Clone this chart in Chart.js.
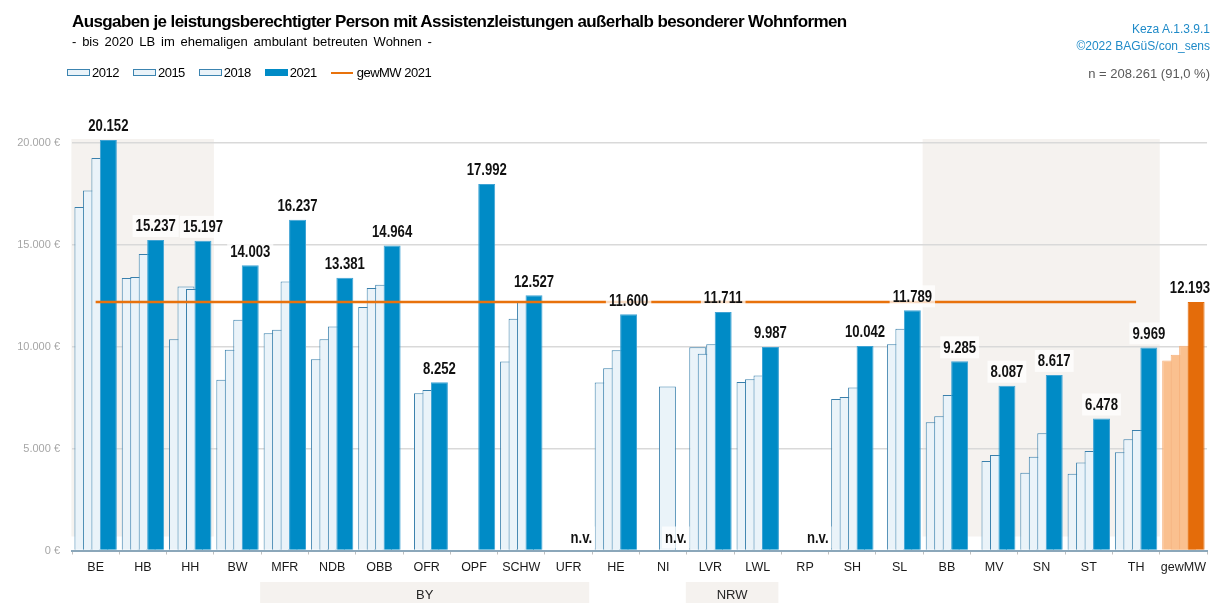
<!DOCTYPE html>
<html>
<head>
<meta charset="utf-8">
<script src="https://cdn.jsdelivr.net/npm/chart.js@4.4.0/dist/chart.umd.min.js"></script>
<style>
  body { margin: 0; background: #fff; }
  #wrap { position: relative; width: 1212px; height: 603px; overflow: hidden; }
  #wrap canvas { position: absolute; left: 0; top: 0; }
  .txt { position: absolute; white-space: nowrap; line-height: 1; font-family: 'Liberation Sans', Arial, sans-serif; }
  #title { left: 72px; top: 13px; font-size: 17px; font-weight: bold; color: #000; letter-spacing: -0.6px; }
  #subtitle { left: 72px; top: 35px; font-size: 13px; color: #000; word-spacing: 2.2px; }
  #src1 { right: 2px; top: 23px; font-size: 12px; color: #1F8AC8; }
  #src2 { right: 2px; top: 40px; font-size: 12px; color: #1F8AC8; }
  #count { right: 2px; top: 67px; font-size: 13px; color: #595959; }
  #legend { left: 67px; top: 66px; font-size: 13px; letter-spacing: -0.5px; display: flex; align-items: center; gap: 14px; color: #000; }
  .item { display: flex; align-items: center; gap: 2px; }
  .box { width: 21px; height: 5px; border: 1px solid #3C84B0; background: #EAF3F9; }
  .box.dark { background: #008BC6; border-color: #008BC6; }
  .line { width: 22px; height: 2px; background: #E8720C; margin-right: 2px; }
</style>
</head>
<body>
<div id="wrap">
  <canvas id="myChart" width="1212" height="603"></canvas>
  <div id="title" class="txt">Ausgaben je leistungsberechtigter Person mit Assistenzleistungen außerhalb besonderer Wohnformen</div>
  <div id="subtitle" class="txt">- bis 2020 LB im ehemaligen ambulant betreuten Wohnen -</div>
  <div id="src1" class="txt">Keza A.1.3.9.1</div>
  <div id="src2" class="txt">©2022 BAGüS/con_sens</div>
  <div id="count" class="txt">n = 208.261 (91,0 %)</div>
  <div id="legend" class="txt">
    <div class="item"><span class="box"></span>2012</div>
    <div class="item"><span class="box"></span>2015</div>
    <div class="item"><span class="box"></span>2018</div>
    <div class="item"><span class="box dark"></span>2021</div>
    <div class="item"><span class="line"></span>gewMW 2021</div>
  </div>
</div>
<script>
'use strict';

var SANS = "'Liberation Sans', Arial, sans-serif";

// categories (x axis)
var cats = ['BE', 'HB', 'HH', 'BW', 'MFR', 'NDB', 'OBB', 'OFR', 'OPF', 'SCHW', 'UFR', 'HE',
            'NI', 'LVR', 'LWL', 'RP', 'SH', 'SL', 'BB', 'MV', 'SN', 'ST', 'TH', 'gewMW'];

// Euro per person (2021 values are printed)
var y2012 = [16857, 13369, 10373, 8380, 10668, 9391, 11945, null, null, 9273, null, 8242,
             null, 9980, 8276, null, 7441, null, 6297, null, 3822, 3773, 4823, 9322];
var y2015 = [17672, 13418, 12957, 9850, 10830, 10373, 12878, 7721, null, 11370, null, 8949,
             null, 9651, 8409, null, 7539, 10128, 6590, 4396, 4607, 4313, 5461, 9602];
var y2018 = [19263, 14548, 12829, 11321, 13202, 10992, 13040, 7883, null, 12220, null, 9833,
             8045, 10128, 8585, null, 7996, 10880, 7637, 4690, 5756, 4887, 5918, 10044];
var y2021 = [20152, 15237, 15197, 14003, 16237, 13381, 14964, 8252, 17992, 12527, null, 11600,
             null, 11711, 9987, null, 10042, 11789, 9285, 8087, 8617, 6478, 9969, 12193];
// weighted mean 2021, drawn across the regions
var gewMW2021 = [12193, 12193, 12193, 12193, 12193, 12193, 12193, 12193, 12193, 12193, 12193, 12193,
                 12193, 12193, 12193, 12193, 12193, 12193, 12193, 12193, 12193, 12193, 12193, null];

// shaded backgrounds and group labels under the axis
var shadedAreas = [['BE', 'HH'], ['BB', 'TH']];
var groupLabels = [['BY', 'MFR', 'UFR'], ['NRW', 'LVR', 'LWL']];

function fmt(v) {
    return String(v).replace(/\B(?=(\d{3})+(?!\d))/g, '.');
}

function isGew(ctx) {
    return cats[ctx.dataIndex] === 'gewMW';
}

function lightSet(label, data, order) {
    return {
        type: 'bar',
        label: label,
        data: data,
        order: order,
        backgroundColor: function(ctx) { return isGew(ctx) ? '#FAC08F' : '#EAF3F9'; },
        borderColor: function(ctx) { return isGew(ctx) ? '#F6B07A' : '#3A80AC'; },
        borderWidth: 1,
        clip: false
    };
}

// bars are grouped with 2021 first (so it is painted on top), then mirrored inside the category
var mirrorBars = {
    id: 'mirrorBars',
    afterDatasetsUpdate: function(chart) {
        var xs = chart.scales.x;
        chart.data.datasets.forEach(function(ds, i) {
            if (ds.type !== 'bar') return;
            chart.getDatasetMeta(i).data.forEach(function(bar, j) {
                var c = xs.getPixelForValue(j);
                bar.x = 2 * c - bar.x;
            });
        });
    }
};

function catWidth(xs) {
    return xs.getPixelForValue(1) - xs.getPixelForValue(0);
}

function catEdges(xs, from, to) {
    var w = catWidth(xs);
    return [xs.getPixelForValue(cats.indexOf(from)) - w / 2, xs.getPixelForValue(cats.indexOf(to)) + w / 2];
}

var backgrounds = {
    id: 'backgrounds',
    beforeDraw: function(chart) {
        var ctx = chart.ctx, xs = chart.scales.x, ys = chart.scales.y;
        var top = ys.getPixelForValue(20000) - 4;
        var bottom = ys.getPixelForValue(0) - 14;
        var pad = catWidth(xs) * 0.05;
        ctx.save();
        ctx.fillStyle = '#F5F2EF';
        shadedAreas.forEach(function(s) {
            var e = catEdges(xs, s[0], s[1]);
            ctx.fillRect(e[0] + pad - 3, top, e[1] - e[0] - pad + 3, bottom - top);
        });
        ctx.restore();
    },
    afterDraw: function(chart) {
        var ctx = chart.ctx, xs = chart.scales.x;
        var top = chart.height - 21;
        ctx.save();
        ctx.font = '13px ' + SANS;
        ctx.textAlign = 'center';
        ctx.textBaseline = 'middle';
        groupLabels.forEach(function(g) {
            var e = catEdges(xs, g[1], g[2]);
            ctx.fillStyle = '#F5F2EF';
            ctx.fillRect(e[0] - 1, top, e[1] - e[0] - 2, 21);
            ctx.fillStyle = '#262626';
            ctx.fillText(g[0], (e[0] + e[1]) / 2 - 2, top + 13);
        });
        ctx.restore();
    }
};

// bold, slightly condensed value labels on a light box
var valueLabels = {
    id: 'valueLabels',
    afterDatasetsDraw: function(chart) {
        var ctx = chart.ctx;
        var meta = chart.getDatasetMeta(3);
        var yZero = chart.scales.y.getPixelForValue(0);
        var sx = 0.82;
        ctx.save();
        ctx.font = 'bold 16px ' + SANS;
        ctx.textAlign = 'center';
        ctx.textBaseline = 'middle';
        meta.data.forEach(function(bar, i) {
            var v = y2021[i];
            var txt = v == null ? 'n.v.' : fmt(v);
            var cy = v == null ? yZero - 13 : bar.y - 14;
            var w = ctx.measureText(txt).width * sx + 6;
            var cx = Math.min(bar.x, chart.width - 2 - w / 2 + 3);
            ctx.fillStyle = 'rgba(255,255,255,0.75)';
            ctx.fillRect(cx - w / 2, cy - 11, w, 22);
            ctx.save();
            ctx.translate(cx, cy + 1);
            ctx.scale(sx, 1);
            ctx.fillStyle = '#111';
            ctx.fillText(txt, 0, 0);
            ctx.restore();
        });
        ctx.restore();
    }
};

function initChart() {
    var ctx = document.getElementById('myChart').getContext('2d');
    var data = {
        labels: cats,
        datasets: [
            lightSet('2012', y2012, 4),
            lightSet('2015', y2015, 3),
            lightSet('2018', y2018, 2),
            {
                type: 'bar',
                label: '2021',
                data: y2021,
                order: 1,
                backgroundColor: function(ctx) { return isGew(ctx) ? '#E46C0A' : '#008BC6'; },
                borderColor: function(ctx) { return isGew(ctx) ? '#E46C0A' : '#3FA3D4'; },
                borderWidth: 1,
                clip: false
            },
            {
                type: 'line',
                label: 'gewMW 2021',
                data: gewMW2021,
                order: 0,
                borderColor: '#E8720C',
                borderWidth: 2.5,
                pointRadius: 0,
                fill: false,
                tension: 0
            }
        ]
    };
    var options = {
        responsive: false,
        animation: false,
        layout: { padding: { left: 0, right: 2, top: 143, bottom: 0 } },
        datasets: {
            bar: { categoryPercentage: 0.717, barPercentage: 2, grouped: true }
        },
        plugins: {
            legend: { display: false },
            tooltip: { enabled: false }
        },
        scales: {
            x: {
                offset: true,
                grid: { offset: true, drawOnChartArea: false, drawTicks: true, tickLength: 4, color: '#BFBFBF' },
                border: { color: '#8BA7BA', width: 2 },
                ticks: { color: '#1a1a1a', font: { family: SANS, size: 12.5 }, padding: 6, maxRotation: 0, autoSkip: false },
                afterFit: function(s) { s.height = 52.5; }
            },
            y: {
                min: 0,
                max: 20000,
                ticks: {
                    stepSize: 5000,
                    color: '#A6A6A6',
                    font: { family: SANS, size: 11 },
                    padding: 12,
                    callback: function(v) { return fmt(v) + ' €'; }
                },
                grid: { color: '#D9D9D9', lineWidth: 1.5, drawTicks: false },
                border: { display: false },
                afterFit: function(s) { s.width = 72; }
            }
        }
    };
    new Chart(ctx, {
        type: 'bar',
        data: data,
        options: options,
        plugins: [mirrorBars, backgrounds, valueLabels]
    });
}

initChart();
</script>
</body>
</html>
